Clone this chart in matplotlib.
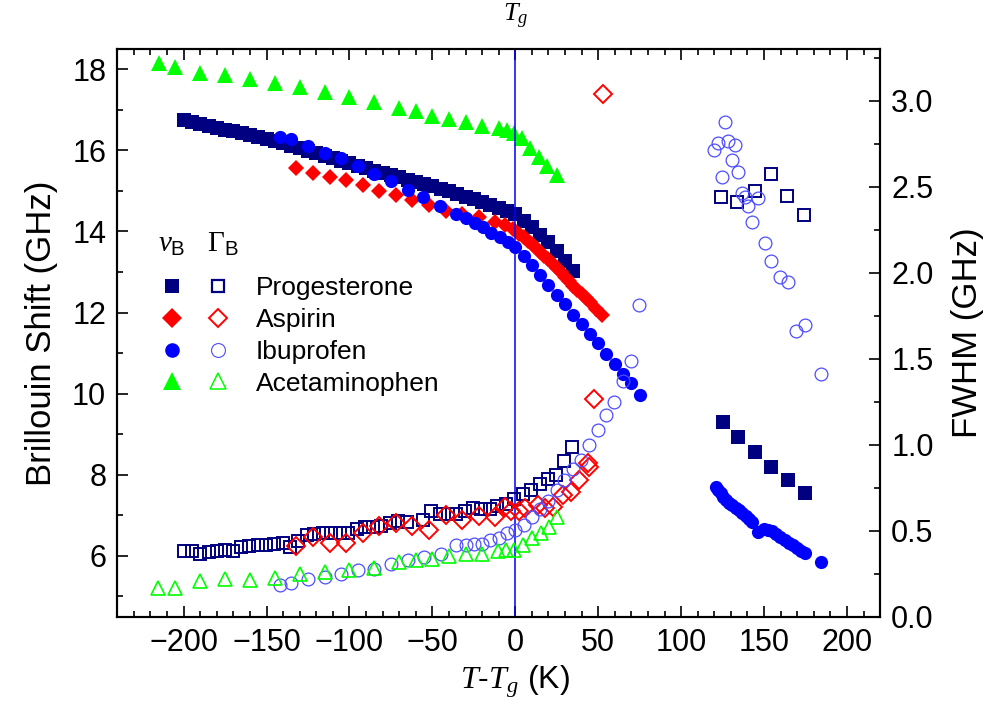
import matplotlib
matplotlib.use("Agg")
import matplotlib.pyplot as plt
from matplotlib.lines import Line2D
from matplotlib.legend_handler import HandlerTuple
from matplotlib.ticker import MultipleLocator, FormatStrFormatter
from matplotlib.transforms import blended_transform_factory

plt.rcParams['font.family'] = ['Liberation Sans', 'DejaVu Sans']
plt.rcParams['mathtext.fontset'] = 'custom'
plt.rcParams['mathtext.rm'] = 'Liberation Serif'
plt.rcParams['mathtext.it'] = 'Liberation Serif:italic'
plt.rcParams['mathtext.sf'] = 'Liberation Sans'

# Brillouin shift (left axis), glass + supercooled
prog_x = [-200, -195, -190, -185, -180, -175, -170, -165, -160, -155, -150, -145,
          -140, -135, -130, -125, -120, -115, -110, -105, -100, -95, -90, -85,
          -80, -75, -70, -65, -60, -55, -50, -45, -40, -35, -30, -25, -20, -15,
          -10, -5, 0, 5, 10, 15, 20, 25, 30, 35]
prog_nu = [16.75, 16.70, 16.66, 16.61, 16.56, 16.51, 16.47, 16.42, 16.37, 16.32, 16.27, 16.22,
           16.17, 16.11, 16.05, 15.99, 15.93, 15.87, 15.80, 15.74, 15.68, 15.62, 15.56, 15.50,
           15.45, 15.39, 15.34, 15.28, 15.23, 15.17, 15.11, 15.05, 14.99, 14.93, 14.86, 14.79,
           14.72, 14.65, 14.58, 14.50, 14.42, 14.26, 14.10, 13.92, 13.73, 13.52, 13.28, 13.03]
prog_liq_x = [125, 134.5, 144.5, 154.5, 164.5, 174.5]
prog_liq_nu = [9.29, 8.94, 8.55, 8.18, 7.87, 7.56]

asp_x = [-132, -122, -112, -102, -92, -82, -72, -62.5, -52, -42, -32, -22, -12.5, -6.5,
         -1.5, 2.5, 5, 7.5, 10, 12.5, 15, 17.5, 20, 22.5, 25, 27.5, 30, 32.5, 35, 37.5,
         40, 42.5, 45, 48.5, 52.5]
asp_nu = [15.56, 15.45, 15.35, 15.27, 15.15, 15.01, 14.90, 14.78, 14.65, 14.51, 14.43, 14.36,
          14.24, 14.16, 14.05, 13.95, 13.87, 13.77, 13.68, 13.59, 13.50, 13.40, 13.31, 13.20,
          13.10, 12.99, 12.88, 12.77, 12.66, 12.55, 12.45, 12.35, 12.25, 12.10, 11.94]

ibu_x = [-142, -135, -125, -115, -105, -95, -85, -75, -65, -55.5, -45.5, -35.5, -30, -24.5,
         -19.5, -14.5, -9.5, -4.5, 0, 5, 10, 15, 20, 25, 30, 35, 40, 45, 50, 55, 60, 65, 70, 75]
ibu_nu = [16.34, 16.27, 16.11, 15.94, 15.80, 15.61, 15.42, 15.24, 15.02, 14.84, 14.64, 14.43,
          14.33, 14.20, 14.10, 13.97, 13.86, 13.75, 13.62, 13.40, 13.17, 12.93, 12.68, 12.43,
          12.20, 11.95, 11.73, 11.46, 11.24, 10.98, 10.72, 10.49, 10.26, 9.97]
ibu_liq_x = [120.8, 122.3, 123.8, 125.4, 126.9, 128.8, 130.8, 132.8, 134.9, 136.9, 138.9,
             140.9, 142.9, 146.5, 149.9, 152.4, 154.9, 157.4, 159.9, 162.4, 164.9, 167.4,
             169.9, 172.3, 174.6, 184.4]
ibu_liq_nu = [7.71, 7.62, 7.54, 7.46, 7.38, 7.31, 7.25, 7.19, 7.13, 7.05, 6.98, 6.91, 6.84,
              6.60, 6.66, 6.64, 6.62, 6.54, 6.46, 6.40, 6.33, 6.26, 6.19, 6.13, 6.08, 5.84]

acet_x = [-215, -205, -190, -175, -160, -145, -130, -115, -100, -85, -70, -60, -50, -40,
          -30, -20, -10, -5, -1, 4, 9, 14, 19, 25]
acet_nu = [18.16, 18.06, 17.92, 17.87, 17.75, 17.67, 17.57, 17.43, 17.31, 17.19, 17.04, 16.97,
           16.85, 16.77, 16.69, 16.60, 16.54, 16.50, 16.42, 16.30, 16.05, 15.84, 15.61, 15.39]

# FWHM (right axis)
prog_gx = [-199.6, -195, -190, -185, -180, -175.3, -170.3, -165.3, -160.3, -155.3, -150.3,
           -145.3, -140.2, -135.8, -130.8, -125.8, -121.2, -116.2, -111.2, -105.7, -100.7,
           -95.3, -90.7, -85.7, -80.7, -75.7, -70.7, -65.6, -55.6, -50.6, -45.6, -40.6,
           -35.5, -30.6, -25.6, -20.5, -15.5, -10.9, -5.5, -0.5, 4.5, 9.6, 14.6, 19.5,
           24.6, 29.2, 34.4, 123.8, 133.8, 144.3, 154.3, 163.9, 174]
prog_gam = [0.380, 0.380, 0.362, 0.376, 0.381, 0.386, 0.380, 0.405, 0.411, 0.415, 0.415,
            0.420, 0.430, 0.405, 0.438, 0.473, 0.479, 0.488, 0.488, 0.486, 0.488,
            0.512, 0.521, 0.521, 0.527, 0.547, 0.554, 0.550, 0.560, 0.612, 0.599, 0.599,
            0.599, 0.612, 0.632, 0.628, 0.628, 0.641, 0.657, 0.682, 0.711, 0.735, 0.773, 0.803,
            0.822, 0.905, 0.987, 2.441, 2.412, 2.474, 2.571, 2.447, 2.334]

asp_gx = [-132, -122, -112, -102, -92, -82, -72, -62, -52, -42, -32, -22, -12, -6.5, -2.5,
          2.5, 6, 13.5, 18, 23, 28.6, 33.5, 38.2, 43.6, 44.6, 47.6, 52.6]
asp_gam = [0.411, 0.463, 0.430, 0.430, 0.488, 0.527, 0.547, 0.527, 0.506, 0.589, 0.560, 0.586,
           0.579, 0.636, 0.612, 0.612, 0.634, 0.647, 0.630, 0.637, 0.705, 0.725, 0.795, 0.895,
           0.870, 1.266, 3.04]

ibu_gx = [-142, -135, -125, -115, -105, -95, -85, -75, -65, -55, -45, -35.6, -30, -25, -20,
          -15, -10, -5, 0, 5, 10, 15, 20, 25, 29.6, 34.6, 39.6, 44.6, 49.6, 54.7, 59.7, 64.7,
          69.7, 74.7, 119.8, 122.2, 124.5, 126.4, 128.2, 130.5, 132.5, 134.4, 136.5, 138.5,
          140.5, 142.5, 146.5, 150.5, 154.5, 159.5, 164.5, 169.3, 174.5, 184.4]
ibu_gam = [0.182, 0.195, 0.217, 0.230, 0.250, 0.269, 0.279, 0.308, 0.331, 0.347, 0.366, 0.415,
           0.415, 0.420, 0.424, 0.448, 0.457, 0.486, 0.506, 0.531, 0.579, 0.628, 0.672, 0.735,
           0.795, 0.861, 0.913, 0.996, 1.084, 1.175, 1.248, 1.369, 1.485, 1.811, 2.712, 2.751,
           2.557, 2.874, 2.767, 2.654, 2.742, 2.583, 2.461, 2.441, 2.387, 2.295, 2.431, 2.173,
           2.067, 1.975, 1.943, 1.663, 1.694, 1.409]

acet_gx = [-215.6, -205, -190, -175, -160, -145, -130, -115, -100, -85, -70, -60, -50, -40,
           -30, -20, -10.5, -5.5, -0.5, 4.5, 10.2, 15.3, 20.3, 25.4]
acet_gam = [0.169, 0.169, 0.205, 0.221, 0.215, 0.224, 0.250, 0.259, 0.273, 0.285, 0.317, 0.327,
            0.333, 0.351, 0.362, 0.366, 0.382, 0.386, 0.386, 0.418, 0.460, 0.485, 0.520, 0.578]

names = ['Progesterone', 'Aspirin', 'Ibuprofen', 'Acetaminophen']

fig = plt.figure(figsize=(9.9, 7.27), dpi=100)
ax = fig.add_axes([0.1185, 0.1517, 0.7705, 0.7809])
ax2 = ax.twinx()

navy, red, blue, green = '#000080', '#ff0000', '#0000ff', '#00ff00'
light = '#4d4dff'

ax.plot(prog_x, prog_nu, 's', color=navy, ms=9.6, mew=0, ls='none')
ax.plot(prog_liq_x, prog_liq_nu, 's', color=navy, ms=9.6, mew=0, ls='none')
ax.plot(asp_x, asp_nu, 'D', color=red, ms=8.6, mew=0, ls='none')
ax.plot(ibu_x, ibu_nu, 'o', color=blue, ms=9.5, mew=0, ls='none')
ax.plot(ibu_liq_x, ibu_liq_nu, 'o', color=blue, ms=9.5, mew=0, ls='none')
ax.plot(acet_x, acet_nu, '^', color=green, ms=11.5, mew=0, ls='none')

ax2.plot(prog_gx, prog_gam, 's', mfc='none', mec=navy, ms=8.4, mew=1.4, ls='none')
ax2.plot(asp_gx, asp_gam, 'D', mfc='none', mec=red, ms=8.8, mew=1.4, ls='none')
ax2.plot(ibu_gx, ibu_gam, 'o', mfc='none', mec=light, ms=9.2, mew=0.9, ls='none')
ax2.plot(acet_gx, acet_gam, '^', mfc='none', mec=green, ms=10.6, mew=1.2, ls='none')

ax.axvline(0, color=blue, lw=1.1, zorder=5)

ax.set_xlim(-240, 220)
ax.set_ylim(4.5, 18.5)
ax2.set_ylim(0, 3.3)

ax.xaxis.set_major_locator(MultipleLocator(50))
ax.xaxis.set_minor_locator(MultipleLocator(10))
ax.yaxis.set_major_locator(MultipleLocator(2))
ax.yaxis.set_minor_locator(MultipleLocator(1))
ax2.yaxis.set_major_locator(MultipleLocator(0.5))
ax2.yaxis.set_minor_locator(MultipleLocator(0.25))
ax2.yaxis.set_major_formatter(FormatStrFormatter('%.1f'))

ax.tick_params(which='both', direction='in', top=True, right=False, width=1.2,
               labelsize=22, pad=8)
ax.tick_params(which='major', length=8)
ax.tick_params(which='minor', length=4.5)
ax2.tick_params(which='both', direction='in', width=1.2, labelsize=22, pad=8)
ax2.tick_params(which='major', length=8)
ax2.tick_params(which='minor', length=4.5)
for a in (ax, ax2):
    for s in a.spines.values():
        s.set_linewidth(1.5)

ax.set_xlabel('$T$-$T_g$ (K)', fontsize=23)
ax.xaxis.set_label_coords(0.5214, -0.083)
ax.set_ylabel('Brillouin Shift (GHz)', fontsize=25, labelpad=10)
ax2.set_ylabel('FWHM (GHz)', fontsize=25, labelpad=12)

# T_g marker label above the plot, at the top edge of the figure
tg_trans = blended_transform_factory(ax.transData, fig.transFigure)
ax.text(0, 0.998, '$T_g$', transform=tg_trans, ha='center', va='top', fontsize=19)

# legend: filled = nu_B, open = Gamma_B
hf = [Line2D([], [], ls='none', marker='s', color=navy, ms=9.5, mew=0),
      Line2D([], [], ls='none', marker='D', color=red, ms=10, mew=0),
      Line2D([], [], ls='none', marker='o', color=blue, ms=10.5, mew=0),
      Line2D([], [], ls='none', marker='^', color=green, ms=13, mew=0)]
ho = [Line2D([], [], ls='none', marker='s', mfc='none', mec=navy, ms=8.5, mew=1.6),
      Line2D([], [], ls='none', marker='D', mfc='none', mec=red, ms=9.5, mew=1.4),
      Line2D([], [], ls='none', marker='o', mfc='none', mec=light, ms=10, mew=0.8),
      Line2D([], [], ls='none', marker='^', mfc='none', mec=green, ms=12, mew=1.1)]
leg = ax.legend(list(zip(hf, ho)), names, handler_map={tuple: HandlerTuple(ndivide=None, pad=0.45)},
                handlelength=3.03, handletextpad=0.8, labelspacing=0.3, fontsize=19,
                frameon=False, loc='upper left', borderpad=0, borderaxespad=0,
                bbox_to_anchor=(0.1566, 0.6204), bbox_transform=fig.transFigure)
fig.text(0.1737, 0.665, r'$\nu_\mathsf{B}$', fontsize=21, ha='center', va='center')
fig.text(0.2253, 0.665, r'$\Gamma_\mathsf{B}$', fontsize=21, ha='center', va='center')

fig.savefig('out.png', dpi=100)
